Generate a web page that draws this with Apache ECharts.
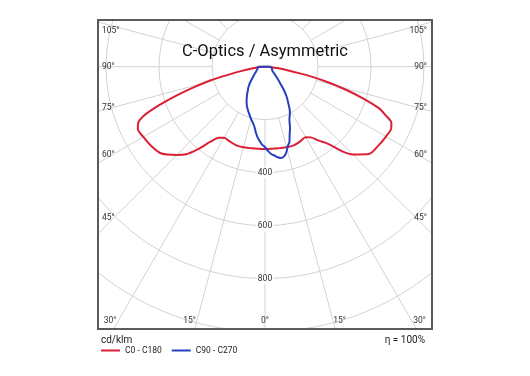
<!DOCTYPE html>
<html>
<head>
<meta charset="utf-8">
<script src="https://cdn.jsdelivr.net/npm/echarts@6/dist/echarts.min.js"></script>
<style>
  html, body { margin: 0; padding: 0; background: #fff; }
  #chart { width: 530px; height: 376px; }
</style>
</head>
<body>
<div id="chart"></div>
<script>
// gamma = angle from nadir (deg), values in cd/klm
const redGamma = [0, 5, 10, 15, 20, 25, 30, 33, 36, 39, 42, 45, 50, 55, 60, 64, 66, 68, 70, 72, 74, 76, 78, 80, 82, 84, 86, 88, 90]
const redC0 = [311, 311, 312, 315, 316, 312, 307, 318, 345, 372, 425, 468, 512, 521, 527, 530, 522, 492, 457, 392, 322, 250, 180, 108, 70, 45, 25, 12, 4]
const redC180 = [311, 311, 312, 315, 316, 312, 310, 320, 350, 400, 445, 471, 510, 523, 530, 534, 524, 492, 425, 350, 276, 211, 130, 85, 55, 35, 20, 10, 3]

const blueGamma = [0, 2, 4, 6, 8, 10, 12, 14, 16, 18, 20, 22, 25, 28, 30, 33, 36, 39, 42, 45, 50, 55, 60, 70, 80, 85, 90]
const blueC90 = [303, 318, 330, 337, 345, 350, 346, 333, 312, 298, 272, 252, 218, 200, 186, 160, 138, 113, 88, 72, 52, 40, 33, 28, 26, 24, 22]
const blueC270 = [303, 295, 282, 268, 250, 230, 218, 208, 200, 190, 182, 174, 162, 148, 138, 124, 110, 99, 88, 75, 58, 48, 40, 32, 28, 26, 24]

const ringLabels = [400, 600, 800]
const sideLabels = ['105°', '90°', '75°', '60°', '45°']
const bottomLabels = ['30°', '15°', '0°', '15°', '30°']

const center = [265, 66.7]
const box = { x: 98, y: 20, w: 334, h: 309 }
const sideY = [31, 67, 108, 155, 218]
const bottomX = [110, 189.5, 265, 339.5, 419.5]
const font = 'Roboto, sans-serif'

// right half from 90° down to nadir, then left half back up, closed at the top
function curve(gamma, right, left) {
  let pts = []
  for (let i = gamma.length - 1; i >= 0; i--) pts.push([right[i], gamma[i]])
  for (let i = 1; i < gamma.length; i++) pts.push([left[i], 360 - gamma[i]])
  pts.push(pts[0])
  return pts
}

let chart = echarts.init(document.getElementById('chart'))

let cover = { type: 'rect', z: 50, silent: true, style: { fill: '#fff' } }
let texts = []
sideLabels.forEach((t, i) => {
  texts.push({ type: 'text', z: 60, style: { text: t, x: box.x + 4, y: sideY[i], align: 'left', verticalAlign: 'middle', font: '8.5px ' + font, fill: '#333' } })
  texts.push({ type: 'text', z: 60, style: { text: t, x: box.x + box.w - 5, y: sideY[i], align: 'right', verticalAlign: 'middle', font: '8.5px ' + font, fill: '#333' } })
})
bottomLabels.forEach((t, i) => {
  texts.push({ type: 'text', z: 60, style: { text: t, x: bottomX[i], y: 321, align: 'center', verticalAlign: 'middle', font: '8.5px ' + font, fill: '#333' } })
})

let option = {
  animation: false,
  title: {
    text: 'C-Optics / Asymmetric',
    left: 'center',
    top: 38,
    z: 60,
    textStyle: { fontFamily: font, fontSize: 16.5, fontWeight: 'normal', color: '#111' },
  },
  legend: {
    data: ['C0 - C180', 'C90 - C270'],
    left: 96,
    top: 341,
    icon: 'rect',
    itemWidth: 19,
    itemHeight: 2,
    itemGap: 10,
    z: 60,
    textStyle: { fontFamily: font, fontSize: 8.5, color: '#222' },
  },
  polar: [
    { center: center, radius: [53, 318] },
    { center: center, radius: [0, 318] },
  ],
  angleAxis: [
    {
      polarIndex: 0,
      type: 'value',
      min: 0,
      max: 360,
      interval: 15,
      startAngle: -90,
      clockwise: false,
      axisLine: { show: false },
      axisTick: { show: false },
      axisLabel: { show: false },
      splitLine: { show: true, lineStyle: { color: '#d2d2d2', width: 1 } },
    },
    { polarIndex: 1, type: 'value', min: 0, max: 360, startAngle: -90, clockwise: false, show: false },
  ],
  radiusAxis: [
    {
      polarIndex: 0,
      type: 'value',
      min: 200,
      max: 1200,
      interval: 200,
      axisLine: { show: false },
      axisTick: { show: false },
      axisLabel: {
        customValues: ringLabels,
        margin: 0,
        align: 'center',
        verticalAlign: 'middle',
        backgroundColor: '#fff',
        padding: [1, 1],
        fontFamily: font,
        fontSize: 8.5,
        color: '#333',
      },
      splitLine: { show: true, lineStyle: { color: '#d2d2d2', width: 1 } },
    },
    { polarIndex: 1, type: 'value', min: 0, max: 1200, show: false },
  ],
  graphic: {
    elements: [
      Object.assign({}, cover, { shape: { x: 0, y: 0, width: 530, height: box.y } }),
      Object.assign({}, cover, { shape: { x: 0, y: 0, width: box.x, height: 376 } }),
      Object.assign({}, cover, { shape: { x: box.x + box.w, y: 0, width: 530, height: 376 } }),
      Object.assign({}, cover, { shape: { x: 0, y: box.y + box.h, width: 530, height: 60 } }),
      { type: 'rect', z: 60, silent: true, shape: { x: box.x, y: box.y, width: box.w, height: box.h }, style: { fill: 'none', stroke: '#5a5a5a', lineWidth: 2 } },
      { type: 'text', z: 60, style: { text: 'cd/klm', x: 101, y: 340, verticalAlign: 'middle', font: '10px ' + font, fill: '#222' } },
      { type: 'text', z: 60, style: { text: 'η = 100%', x: 425, y: 340, align: 'right', verticalAlign: 'middle', font: '10px ' + font, fill: '#222' } },
    ].concat(texts),
  },
  series: [
    {
      name: 'C0 - C180',
      type: 'line',
      coordinateSystem: 'polar',
      polarIndex: 1,
      symbol: 'none',
      smooth: 0.3,
      z: 5,
      lineStyle: { color: '#db1f34', width: 2 },
      itemStyle: { color: '#db1f34' },
      data: curve(redGamma, redC0, redC180),
    },
    {
      name: 'C90 - C270',
      type: 'line',
      coordinateSystem: 'polar',
      polarIndex: 1,
      symbol: 'none',
      smooth: 0.3,
      z: 6,
      lineStyle: { color: '#2740c0', width: 2 },
      itemStyle: { color: '#2740c0' },
      data: curve(blueGamma, blueC90, blueC270),
    },
  ],
}

chart.setOption(option)
</script>
</body>
</html>
